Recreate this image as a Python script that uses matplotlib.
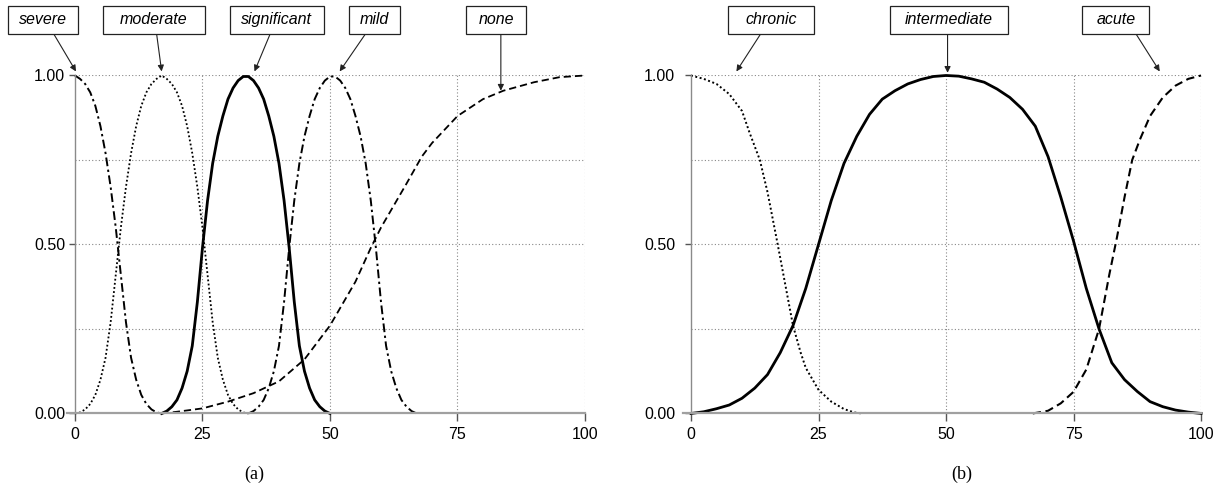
import numpy as np
import matplotlib.pyplot as plt
from matplotlib.patches import Rectangle

plt.rcParams['font.family'] = ['Liberation Sans', 'DejaVu Sans']

# ---- panel (a) data ----
severe_x = list(range(0, 18))
severe_y = [1.00, 0.99, 0.975, 0.95, 0.91, 0.85, 0.77, 0.67, 0.55, 0.41,
            0.27, 0.165, 0.10, 0.055, 0.028, 0.012, 0.003, 0.0]

moderate_x = list(range(0, 35))
moderate_y = [0.0, 0.003, 0.012, 0.028, 0.055, 0.10, 0.165, 0.27, 0.41, 0.55,
              0.67, 0.77, 0.85, 0.91, 0.95, 0.975, 0.99, 1.00, 0.99, 0.975,
              0.95, 0.91, 0.85, 0.77, 0.67, 0.55, 0.41, 0.27, 0.165, 0.10,
              0.055, 0.028, 0.012, 0.003, 0.0]

significant_x = list(range(17, 51))
significant_y = [0.0, 0.007, 0.02, 0.04, 0.075, 0.125, 0.20, 0.33, 0.49, 0.63,
                 0.74, 0.82, 0.88, 0.93, 0.963, 0.985, 0.997, 0.997, 0.985, 0.963,
                 0.93, 0.88, 0.82, 0.74, 0.63, 0.49, 0.33, 0.20, 0.125, 0.075,
                 0.04, 0.02, 0.007, 0.0]

mild_x = list(range(34, 68))
mild_y = [0.0, 0.007, 0.02, 0.04, 0.075, 0.125, 0.20, 0.33, 0.49, 0.63,
          0.74, 0.82, 0.88, 0.93, 0.963, 0.985, 0.997, 0.997, 0.985, 0.963,
          0.93, 0.88, 0.82, 0.74, 0.63, 0.49, 0.33, 0.20, 0.125, 0.075,
          0.04, 0.02, 0.007, 0.0]

none_x = [17, 20, 25, 30, 35, 40, 45, 50, 55, 58, 60, 65, 68, 70, 75, 80, 84, 90, 95, 100]
none_y = [0.0, 0.005, 0.015, 0.035, 0.06, 0.095, 0.16, 0.26, 0.39, 0.49,
          0.55, 0.68, 0.76, 0.80, 0.88, 0.93, 0.955, 0.98, 0.995, 1.0]

# ---- panel (b) data ----
chronic_x = [0, 2.5, 5, 7.5, 10, 11.5, 12.5, 13.5, 15, 17, 18.5, 20, 21.5, 22.5, 25, 27.5, 30, 32, 33.5]
chronic_y = [1.0, 0.99, 0.975, 0.945, 0.895, 0.83, 0.79, 0.75, 0.655, 0.50,
             0.38, 0.26, 0.18, 0.135, 0.07, 0.035, 0.013, 0.003, 0.0]

intermediate_x = [i * 2.5 for i in range(41)]
intermediate_y = [0.0, 0.005, 0.014, 0.025, 0.045, 0.075, 0.115, 0.18, 0.26, 0.37,
                  0.50, 0.63, 0.74, 0.82, 0.885, 0.93, 0.955, 0.975, 0.988, 0.997,
                  1.0, 0.998, 0.99, 0.98, 0.96, 0.935, 0.90, 0.85, 0.76, 0.64,
                  0.51, 0.37, 0.25, 0.15, 0.10, 0.065, 0.035, 0.02, 0.01, 0.004, 0.0]

acute_x = [67, 70, 72.5, 75, 77.5, 80, 82, 83.5, 85, 86.5, 88, 90, 92.5, 95, 97.5, 100]
acute_y = [0.0, 0.008, 0.03, 0.064, 0.13, 0.25, 0.41, 0.52, 0.64, 0.75,
           0.81, 0.88, 0.935, 0.97, 0.99, 1.0]

x_ticks = [0, 25, 50, 75, 100]
y_ticks = [0.0, 0.5, 1.0]

# label layout: text, box centre x, box width, arrow tail x, arrow head (x, y)
labels_a = [('severe', -6.3, 13.7, -4.2, 0.2, 1.012),
            ('moderate', 15.5, 20.0, 16.0, 17.0, 1.012),
            ('significant', 39.6, 18.4, 38.3, 35.2, 1.012),
            ('mild', 58.7, 10.0, 57.0, 51.9, 1.012),
            ('none', 82.6, 11.8, 83.5, 83.5, 0.955)]
labels_b = [('chronic', 15.7, 16.8, 13.7, 8.9, 1.012),
            ('intermediate', 50.6, 23.2, 50.3, 50.3, 1.008),
            ('acute', 83.3, 13.1, 87.2, 91.9, 1.012)]

DOTTED = (0, (1, 1.3))
DASHDOT = (0, (4.5, 1.8, 1.2, 1.8))
DASHED = (0, (4, 2.2))

fig = plt.figure(figsize=(12.17, 4.87), dpi=100)
ax_a = fig.add_axes([0.0553, 0.151, 0.4254, 0.694])
ax_b = fig.add_axes([0.5615, 0.151, 0.4254, 0.694])


def setup_axes(ax, label_pad):
    ax.set_xlim(-1.5, 100)
    ax.set_ylim(0, 1)
    for s in ['top', 'right']:
        ax.spines[s].set_visible(False)
    ax.spines['left'].set_position(('data', 0))
    ax.spines['left'].set_bounds(0, 1)
    ax.spines['left'].set_color('#8a8a8a')
    ax.spines['left'].set_linewidth(1.0)
    ax.spines['bottom'].set_color('#a0a0a0')
    ax.spines['bottom'].set_linewidth(1.6)
    ax.set_xticks(x_ticks)
    ax.set_yticks(y_ticks)
    ax.set_yticks([0.25, 0.75], minor=True)
    ax.set_yticklabels(['0.00', '0.50', '1.00'])
    ax.tick_params(axis='x', length=6, width=1.0, color='#555555', pad=4, labelsize=11.5)
    ax.tick_params(axis='y', length=4, width=1.0, color='#555555', pad=label_pad, labelsize=11.5)
    ax.tick_params(axis='y', which='minor', length=0)
    for xv in x_ticks[1:]:
        ax.axvline(xv, color='#888888', lw=0.8, ls=(0, (1, 2)), zorder=0)
    for yv in [0.25, 0.5, 0.75, 1.0]:
        ax.axhline(yv, xmin=1.5 / 101.5, color='#888888', lw=0.8, ls=(0, (1, 2)), zorder=0)


def add_labels(ax, items):
    for text, cx, w, tail_x, hx, hy in items:
        ax.add_patch(Rectangle((cx - w / 2, 1.124), w, 0.082, transform=ax.transData,
                               facecolor='white', edgecolor='#222222', lw=0.9, clip_on=False, zorder=5))
        ax.text(cx, 1.165, text, ha='center', va='center', style='italic',
                fontsize=11.5, zorder=6, clip_on=False)
        ax.annotate('', xy=(hx, hy), xytext=(tail_x, 1.124), xycoords='data',
                    arrowprops=dict(arrowstyle='-|>', lw=0.8, color='#222222',
                                    mutation_scale=9, shrinkA=0, shrinkB=0),
                    annotation_clip=False)


setup_axes(ax_a, 3)
ax_a.plot(severe_x, severe_y, color='k', lw=1.4, ls=DASHDOT, clip_on=False)
ax_a.plot(moderate_x, moderate_y, color='k', lw=1.3, ls=DOTTED, clip_on=False)
ax_a.plot(significant_x, significant_y, color='k', lw=2.0, clip_on=False)
ax_a.plot(mild_x, mild_y, color='k', lw=1.4, ls=DASHDOT, clip_on=False)
ax_a.plot(none_x, none_y, color='k', lw=1.3, ls=DASHED, clip_on=False)
add_labels(ax_a, labels_a)

setup_axes(ax_b, 7.5)
ax_b.plot(chronic_x, chronic_y, color='k', lw=1.4, ls=DOTTED, clip_on=False)
ax_b.plot(intermediate_x, intermediate_y, color='k', lw=2.0, clip_on=False)
ax_b.plot(acute_x, acute_y, color='k', lw=1.5, ls=DASHED, clip_on=False)
add_labels(ax_b, labels_b)

fig.text(0.2087, 0.025, '(a)', ha='center', va='center', fontsize=13, family='Liberation Serif')
fig.text(0.790, 0.025, '(b)', ha='center', va='center', fontsize=13, family='Liberation Serif')

plt.savefig('out.png', dpi=100)
